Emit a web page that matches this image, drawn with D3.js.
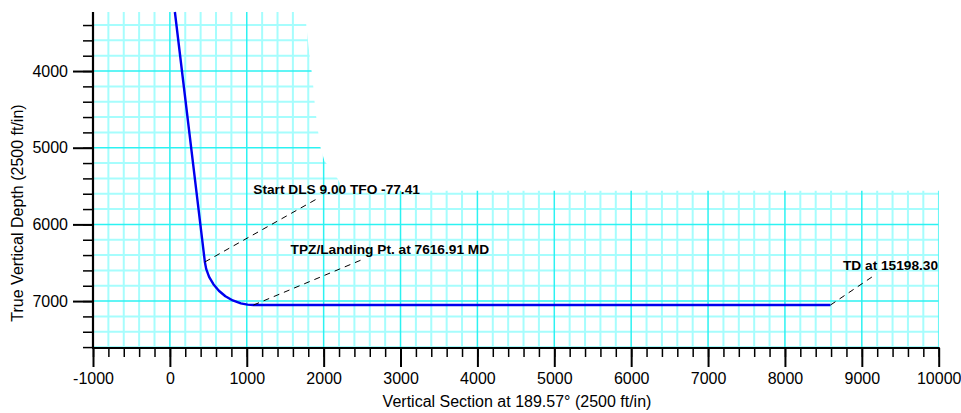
<!DOCTYPE html>
<html>
<head>
<meta charset="utf-8">
<style>
  body { margin: 0; background: #fff; }
  svg text { font-family: "Liberation Sans", Arial, sans-serif; }
</style>
</head>
<body>
<svg width="961" height="413"></svg>
<script src="https://d3js.org/d3.v7.min.js"></script>
<script>
// well path: vertical section (ft) vs true vertical depth (ft)
const vsec = [65, 455, 472, 510, 566, 637, 722, 818, 923, 1010, 1087, 8592];
const tvd = [3230, 6490, 6580, 6684, 6780, 6865, 6937, 6992, 7030, 7047, 7052, 7052];

const xTicks = [-1000, 0, 1000, 2000, 3000, 4000, 5000, 6000, 7000, 8000, 9000, 10000];
const yTicks = [4000, 5000, 6000, 7000];

// annotations: point on path, end of leader, label anchor
const noteText = ["Start DLS 9.00 TFO -77.41", "TPZ/Landing Pt. at 7616.91 MD", "TD at 15198.30"];
const notePt = [[455, 6490], [1087, 7052], [8592, 7052]];
const noteEnd = [[1895, 5677], [2480, 6468], [9164, 6664]];
const noteLabel = [[1085, 5600], [1570, 6390], [8755, 6590]];

// outline of the gridded area (upper right corner is left blank)
const gridEdge = [[-1000, 3230], [1772, 3230], [1774, 3400], [1795, 3600], [1817, 3800],
  [1843, 4000], [1865, 4200], [1882, 4400], [1904, 4600], [1930, 4800], [1960, 5000],
  [2010, 5170], [2180, 5400], [2260, 5560], [10000, 5560], [10000, 7612], [-1000, 7612]];

const svg = d3.select("svg");
const mLeft = 93, mRight = 938.7, mTop = 12, mBottom = 348;

const x = d3.scaleLinear().domain([-1000, 10000]).range([mLeft, mRight]);
const y = d3.scaleLinear().domain([3230, 7612]).range([mTop, mBottom]);

svg.append("clipPath").attr("id", "gridclip")
  .append("polygon")
  .attr("points", gridEdge.map(d => [x(d[0]), y(d[1])].join(",")).join(" "));

const grid = svg.append("g").attr("clip-path", "url(#gridclip)");
const minorX = d3.range(-800, 10001, 200).filter(v => v % 1000 !== 0);
const majorX = d3.range(0, 10001, 1000);
const minorY = d3.range(3400, 7601, 200).filter(v => v % 1000 !== 0);

grid.selectAll(".vmin").data(minorX).join("line")
  .attr("x1", d => x(d)).attr("x2", d => x(d))
  .attr("y1", mTop).attr("y2", mBottom)
  .attr("stroke", "#a6fdfd").attr("stroke-width", 2);
grid.selectAll(".hmin").data(minorY).join("line")
  .attr("y1", d => y(d)).attr("y2", d => y(d))
  .attr("x1", mLeft).attr("x2", mRight)
  .attr("stroke", "#a6fdfd").attr("stroke-width", 2);
grid.selectAll(".vmaj").data(majorX).join("line")
  .attr("x1", d => x(d)).attr("x2", d => x(d))
  .attr("y1", mTop).attr("y2", mBottom)
  .attr("stroke", "#2cf2f2").attr("stroke-width", 1.5);
grid.selectAll(".hmaj").data(yTicks).join("line")
  .attr("y1", d => y(d)).attr("y2", d => y(d))
  .attr("x1", mLeft).attr("x2", mRight)
  .attr("stroke", "#2cf2f2").attr("stroke-width", 1.5);

// axes
const fmt = d => String(d);
const xMinor = d3.axisBottom(x).tickValues(d3.range(-1000, 10001, 200)).tickSize(9).tickFormat("");
const xMajor = d3.axisBottom(x).tickValues(xTicks).tickSize(19).tickPadding(6).tickFormat(fmt);
const yMinor = d3.axisLeft(y).tickValues(d3.range(3400, 7601, 200)).tickSize(10).tickFormat("");
const yMajor = d3.axisLeft(y).tickValues(yTicks).tickSize(20).tickPadding(5).tickFormat(fmt);

function styleAxis(g, w) {
  g.select(".domain").remove();
  g.selectAll(".tick line").attr("stroke", "#000").attr("stroke-width", w);
  g.selectAll("text").attr("fill", "#000").style("font-size", "16px");
}
svg.append("g").attr("transform", `translate(0,${mBottom})`).call(xMinor).call(g => styleAxis(g, 1.5));
svg.append("g").attr("transform", `translate(0,${mBottom})`).call(xMajor).call(g => styleAxis(g, 2));
svg.append("g").attr("transform", `translate(${mLeft},0)`).call(yMinor).call(g => styleAxis(g, 1.5));
svg.append("g").attr("transform", `translate(${mLeft},0)`).call(yMajor).call(g => styleAxis(g, 2));

svg.append("line").attr("x1", mLeft - 1).attr("x2", mRight + 1).attr("y1", mBottom).attr("y2", mBottom)
  .attr("stroke", "#000").attr("stroke-width", 2.2);
svg.append("line").attr("x1", mLeft).attr("x2", mLeft).attr("y1", mTop).attr("y2", mBottom)
  .attr("stroke", "#000").attr("stroke-width", 2.2);

// well path
const pts = vsec.map((v, i) => [v, tvd[i]]);
svg.append("path")
  .attr("d", d3.line().x(d => x(d[0])).y(d => y(d[1]))(pts))
  .attr("fill", "none").attr("stroke", "#0000ee").attr("stroke-width", 2.4)
  .attr("stroke-linejoin", "round");

// annotations
noteText.forEach((t, i) => {
  svg.append("line")
    .attr("x1", x(notePt[i][0])).attr("y1", y(notePt[i][1]))
    .attr("x2", x(noteEnd[i][0])).attr("y2", y(noteEnd[i][1]))
    .attr("stroke", "#000").attr("stroke-width", 1).attr("stroke-dasharray", "6,5");
  svg.append("text")
    .attr("x", x(noteLabel[i][0])).attr("y", y(noteLabel[i][1]))
    .style("font-size", "13.7px").style("font-weight", "bold")
    .text(t);
});

// axis titles
svg.append("text").attr("x", 517).attr("y", 407).attr("text-anchor", "middle")
  .style("font-size", "16px").text("Vertical Section at 189.57° (2500 ft/in)");
svg.append("text").attr("transform", "translate(23,213) rotate(-90)").attr("text-anchor", "middle")
  .style("font-size", "16px").text("True Vertical Depth (2500 ft/in)");
</script>
</body>
</html>
